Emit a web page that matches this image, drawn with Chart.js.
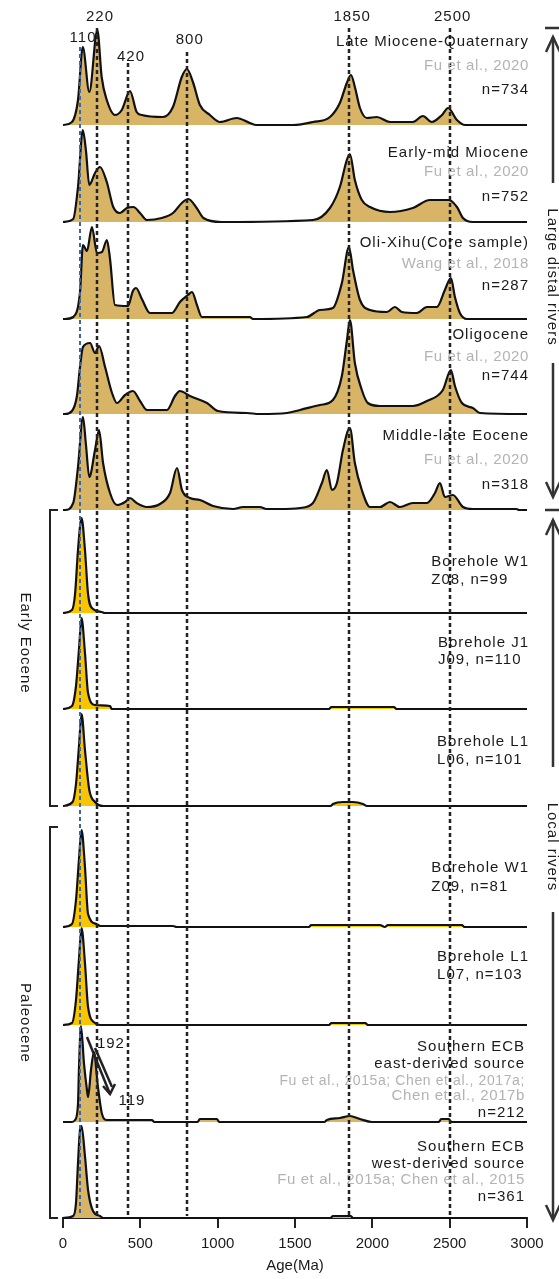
<!DOCTYPE html>
<html>
<head>
<meta charset="utf-8">
<script src="https://cdn.jsdelivr.net/npm/chart.js@4/dist/chart.umd.min.js"></script>
<style>
  html, body { margin: 0; padding: 0; background: #fff; }
  #wrap { width: 559px; height: 1279px; }
</style>
</head>
<body>
<div id="wrap"><canvas id="kde" width="559" height="1279" style="width:559px;height:1279px"></canvas></div>
<script>
// ages (Ma) and curve heights for each sample
const ageLateMio = [0,58,97,128,170,222,250,283,336,380,433,476,510,646,711,768,801,840,885,950,1015,1123,1208,1250,1487,1616,1726,1790,1835,1862,1887,1920,1965,2029,2114,2262,2327,2384,2450,2490,2547,2600,3000];
const hLateMio   = [0,3,25,78,33,95,48,25,10,15,34,13,10,8,18,48,56,43,20,10,3,7,2,0,0,3,8,22,42,50,38,17,7,8,3,3,9,3,10,17,5,0,0];

const ageEarlyMio = [0,66,97,128,148,170,207,239,283,325,368,413,455,498,541,638,711,768,810,864,908,1025,1616,1726,1790,1835,1855,1887,1932,1985,2114,2262,2372,2495,2547,2586,2650,3000];
const hEarlyMio   = [0,3,35,92,72,37,49,55,40,15,9,14,15,9,2,4,9,19,23,14,4,0,2,14,35,62,68,42,22,15,10,14,22,22,15,4,0,0];

const ageOliXihu = [0,13,66,110,129,155,187,220,252,284,304,336,420,452,472,510,562,704,756,808,834,866,898,1208,1228,1577,1661,1745,1803,1849,1875,1920,1985,2094,2146,2191,2288,2353,2417,2469,2508,2534,2566,2611,3000];
const hOliXihu   = [0,0,2,27,74,68,92,66,67,79,60,14,13,28,31,20,6,6,17,24,27,14,2,2,0,2,9,11,36,72,49,19,9,7,12,7,6,12,12,29,41,22,6,0,0];

const ageOligo = [0,13,58,90,110,129,175,207,233,272,317,349,401,452,498,543,672,724,756,821,931,1002,1189,1273,1448,1532,1661,1745,1803,1836,1855,1887,1932,1971,2049,2262,2353,2456,2508,2534,2579,2650,2695,3000];
const hOligo   = [0,0,3,18,47,67,71,61,68,47,21,11,19,23,13,4,4,18,23,18,11,3,1,0,1,4,9,14,38,74,94,51,24,11,8,8,13,24,44,28,11,6,1,0];

const ageMidEoc = [0,13,66,97,129,148,170,207,233,259,304,349,401,433,476,541,627,692,737,769,821,885,970,1100,1164,1273,1316,1403,1532,1616,1674,1706,1739,1771,1810,1855,1887,1932,1985,2049,2114,2178,2262,2353,2405,2437,2469,2521,2586,2650,2930,2950,3000];
const hMidEoc   = [0,0,7,43,93,66,33,60,80,47,17,5,8,12,7,3,6,17,42,20,12,10,4,1,3,3,1,1,2,7,27,40,20,27,60,82,47,20,3,3,8,3,7,7,17,27,13,15,3,1,1,0,0];

const ageW1Z08 = [0,58,78,97,120,142,162,194,250,270,3000];
const hW1Z08   = [0,3,19,63,95,63,19,4,1,0,0];

const ageJ1J09 = [0,58,84,103,120,142,162,207,304,315,1720,1735,2140,2155,3000];
const hJ1J09   = [0,3,23,59,91,56,16,4,3,0,0,2,2,0,0];

const ageL1L06 = [0,62,84,103,120,142,170,207,260,1730,1745,1810,1875,1940,1965,3000];
const hL1L06   = [0,4,22,59,92,56,16,4,0,0,2,4,4,2,0,0];

const ageW1Z09 = [0,58,84,103,120,142,162,217,240,711,735,1590,1605,2049,2081,2101,2579,2595,3000];
const hW1Z09   = [0,3,27,67,97,60,13,3,1,1,0,0,2,2,0,2,2,0,0];

const ageL1L07 = [0,58,84,103,120,142,162,207,240,1720,1735,1955,1970,3000];
const hL1L07   = [0,2,25,65,97,62,18,2,0,0,2,2,0,0];

const ageEcbEast = [0,58,78,97,103,116,136,155,162,181,200,226,252,284,575,590,870,885,995,1010,1690,1706,1790,1855,1920,1997,2430,2445,2495,2510,3000];
const hEcbEast   = [0,0,2,18,52,96,58,32,25,52,70,35,8,2,2,0,0,3,3,0,0,2,4,6,3,0,0,3,3,0,0];

const ageEcbWest = [0,66,84,97,110,120,142,162,194,239,260,1730,1745,1860,1875,3000];
const hEcbWest   = [0,2,15,55,88,92,62,28,7,2,0,0,2,2,0,0];

// peak ages marked with dashed lines
const peakAges = [110, 220, 420, 800, 1850, 2500];
const peakLabels = ['110', '220', '420', '800', '1850', '2500'];

// panel labels: [text, isReference]
const labelsLateMio  = [['Late Miocene-Quaternary', 0], ['Fu et al., 2020', 1], ['n=734', 0]];
const labelsEarlyMio = [['Early-mid Miocene', 0], ['Fu et al., 2020', 1], ['n=752', 0]];
const labelsOliXihu  = [['Oli-Xihu(Core sample)', 0], ['Wang et al., 2018', 1], ['n=287', 0]];
const labelsOligo    = [['Oligocene', 0], ['Fu et al., 2020', 1], ['n=744', 0]];
const labelsMidEoc   = [['Middle-late Eocene', 0], ['Fu et al., 2020', 1], ['n=318', 0]];
const labelsW1Z08    = [['Borehole W1', 0], ['Z08, n=99', 0]];
const labelsJ1J09    = [['Borehole J1', 0], ['J09, n=110', 0]];
const labelsL1L06    = [['Borehole L1', 0], ['L06, n=101', 0]];
const labelsW1Z09    = [['Borehole W1', 0], ['Z09, n=81', 0]];
const labelsL1L07    = [['Borehole L1', 0], ['L07, n=103', 0]];
const labelsEcbEast  = [['Southern ECB', 0], ['east-derived source', 0], ['Fu et al., 2015a; Chen et al., 2017a;', 1], ['Chen et al., 2017b', 1], ['n=212', 0]];
const labelsEcbWest  = [['Southern ECB', 0], ['west-derived source', 0], ['Fu et al., 2015a; Chen et al., 2015', 1], ['n=361', 0]];

// ---------- layout (pixels) ----------
const TAN = '#d8b566';
const YELLOW = '#f8c500';
const INK = '#1a1a1a';
const FONT = '"Liberation Sans", Arial, sans-serif';
const AXIS_Y = 1218;   // bottom of plot area

const panels = [
  { age: ageLateMio,  h: hLateMio,  base: 125,  fill: TAN,    labels: labelsLateMio,  ly: [42, 66, 90] },
  { age: ageEarlyMio, h: hEarlyMio, base: 222,  fill: TAN,    labels: labelsEarlyMio, ly: [153, 172, 197] },
  { age: ageOliXihu,  h: hOliXihu,  base: 319,  fill: TAN,    labels: labelsOliXihu,  ly: [243, 264, 286] },
  { age: ageOligo,    h: hOligo,    base: 414,  fill: TAN,    labels: labelsOligo,    ly: [335, 357, 376] },
  { age: ageMidEoc,   h: hMidEoc,   base: 510,  fill: TAN,    labels: labelsMidEoc,   ly: [436, 460, 485] },
  { age: ageW1Z08,    h: hW1Z08,    base: 613,  fill: YELLOW, labels: labelsW1Z08,    ly: [562, 580], block: true },
  { age: ageJ1J09,    h: hJ1J09,    base: 709,  fill: YELLOW, labels: labelsJ1J09,    ly: [643, 660], block: true },
  { age: ageL1L06,    h: hL1L06,    base: 806,  fill: YELLOW, labels: labelsL1L06,    ly: [742, 760], block: true },
  { age: ageW1Z09,    h: hW1Z09,    base: 927,  fill: YELLOW, labels: labelsW1Z09,    ly: [868, 887], block: true },
  { age: ageL1L07,    h: hL1L07,    base: 1025, fill: YELLOW, labels: labelsL1L07,    ly: [957, 975], block: true },
  { age: ageEcbEast,  h: hEcbEast,  base: 1122, fill: TAN,    labels: labelsEcbEast,  ly: [1047, 1064, 1081, 1096, 1113], right: 525 },
  { age: ageEcbWest,  h: hEcbWest,  base: 1218, fill: TAN,    labels: labelsEcbWest,  ly: [1147, 1164, 1180, 1197], right: 525 }
];

// top of each dashed peak line (pixels) and label placement
const peakTop = [47, 28, 63, 52, 28, 28];
const peakLabelY = [38, 17, 57, 40, 17, 17];

Chart.defaults.font.family = FONT;

const datasets = panels.map(p => {
  const off = AXIS_Y - p.base;
  return {
    data: p.age.map((a, i) => ({ x: a, y: off + p.h[i] })),
    borderColor: '#111',
    borderWidth: 2.2,
    backgroundColor: p.fill,
    fill: { value: off },
    pointRadius: 0,
    cubicInterpolationMode: 'monotone',
    clip: false
  };
});

function chevron(ctx, x, tipY, dir) {
  ctx.beginPath();
  ctx.moveTo(x - 7, tipY + dir * 15);
  ctx.lineTo(x, tipY);
  ctx.lineTo(x + 7, tipY + dir * 15);
  ctx.stroke();
}

function vText(ctx, text, x, y) {
  ctx.save();
  ctx.translate(x, y);
  ctx.rotate(Math.PI / 2);
  ctx.textAlign = 'center';
  ctx.textBaseline = 'middle';
  ctx.fillText(text, 0, 0);
  ctx.restore();
}

const peakLines = {
  id: 'peakLines',
  afterDatasetsDraw(chart) {
    const { ctx, scales: { x } } = chart;
    ctx.save();
    ctx.setLineDash([4, 3]);
    peakAges.forEach((a, i) => {
      const px = Math.round(x.getPixelForValue(a));
      ctx.strokeStyle = a === 110 ? '#3a64a8' : '#222';
      ctx.lineWidth = a === 110 ? 2 : 2.5;
      ctx.beginPath();
      ctx.moveTo(px, peakTop[i]);
      ctx.lineTo(px, AXIS_Y - 2);
      ctx.stroke();
    });
    ctx.setLineDash([]);

    // peak annotation arrows in the east-derived panel
    const base = panels[10].base;
    const P = (a, h) => [x.getPixelForValue(a), base - h];
    ctx.strokeStyle = '#222';
    ctx.lineWidth = 2.5;
    const tip = P(304, 28);
    let s = P(155, 85);
    ctx.beginPath(); ctx.moveTo(...s); ctx.lineTo(...tip); ctx.stroke();
    s = P(207, 74);
    const e = P(317, 35);
    ctx.beginPath(); ctx.moveTo(...s); ctx.lineTo(...e); ctx.stroke();
    ctx.beginPath();
    ctx.moveTo(tip[0] - 7, tip[1] - 8);
    ctx.lineTo(tip[0], tip[1]);
    ctx.lineTo(e[0] + 3, e[1] - 3);
    ctx.stroke();
    ctx.restore();
  },
  afterDraw(chart) {
    const { ctx, scales: { x } } = chart;
    ctx.save();
    ctx.font = '15px ' + FONT;
    ctx.letterSpacing = '1px';
    ctx.fillStyle = INK;
    ctx.textAlign = 'center';
    ctx.textBaseline = 'middle';
    peakLabels.forEach((t, i) => {
      ctx.fillText(t, x.getPixelForValue(peakAges[i]) + 3, peakLabelY[i]);
    });
    const base = panels[10].base;
    ctx.fillText('192', x.getPixelForValue(310), base - 78);
    ctx.fillText('119', x.getPixelForValue(446), base - 21);

    // panel labels
    panels.forEach(p => {
      const right = p.right || 529;
      if (p.block) {
        ctx.fillStyle = INK;
        ctx.textAlign = 'right';
        ctx.fillText(p.labels[0][0], right, p.ly[0]);
        const left = right - ctx.measureText(p.labels[0][0]).width;
        ctx.textAlign = 'left';
        ctx.fillText(p.labels[1][0], left, p.ly[1]);
        return;
      }
      ctx.textAlign = 'right';
      p.labels.forEach(([t, ref], i) => {
        ctx.fillStyle = ref ? '#b3b3b3' : INK;
        ctx.letterSpacing = ref ? '0.6px' : '1px';
        ctx.font = (t.length > 35 ? '14px ' : '15px ') + FONT;
        ctx.fillText(t, right, p.ly[i]);
      });
      ctx.font = '15px ' + FONT;
      ctx.letterSpacing = '1px';
    });

    // left brackets
    ctx.strokeStyle = '#222';
    ctx.lineWidth = 2;
    [[510, 806], [827, 1218]].forEach(([t, b]) => {
      ctx.beginPath();
      ctx.moveTo(58, t); ctx.lineTo(50, t); ctx.lineTo(50, b); ctx.lineTo(58, b);
      ctx.stroke();
    });
    ctx.fillStyle = INK;
    vText(ctx, 'Early Eocene', 25, 643);
    vText(ctx, 'Paleocene', 25, 1023);

    // right arrows
    const ax = 553;
    ctx.lineWidth = 2.5;
    ctx.strokeStyle = '#333';
    ctx.beginPath();
    ctx.moveTo(545, 28); ctx.lineTo(559, 28);
    ctx.moveTo(545, 510); ctx.lineTo(559, 510);
    ctx.moveTo(ax, 37); ctx.lineTo(ax, 183);
    ctx.moveTo(ax, 363); ctx.lineTo(ax, 496);
    ctx.moveTo(ax, 520); ctx.lineTo(ax, 767);
    ctx.moveTo(ax, 912); ctx.lineTo(ax, 1219);
    ctx.stroke();
    chevron(ctx, ax, 37, 1);
    chevron(ctx, ax, 497, -1);
    chevron(ctx, ax, 520, 1);
    chevron(ctx, ax, 1220, -1);
    vText(ctx, 'Large distal rivers', 552, 277);
    vText(ctx, 'Local rivers', 552, 847);
    ctx.restore();
  }
};

new Chart(document.getElementById('kde'), {
  type: 'line',
  data: { datasets },
  options: {
    responsive: false,
    animation: false,
    layout: { padding: { left: 63, right: 32, top: 0, bottom: 0 } },
    plugins: { legend: { display: false }, tooltip: { enabled: false } },
    scales: {
      x: {
        type: 'linear',
        min: 0,
        max: 3000,
        afterFit(scale) { scale.height = 61; },
        ticks: { stepSize: 500, color: INK, font: { size: 15 }, padding: 7, maxRotation: 0, callback: v => String(v) },
        grid: { drawOnChartArea: false, drawTicks: true, tickLength: 10, lineWidth: 2, color: '#222' },
        border: { display: true, color: '#222', width: 2 },
        title: { display: true, text: 'Age(Ma)', color: INK, font: { size: 15 }, padding: { top: 0, bottom: 4 } }
      },
      y: { type: 'linear', min: 0, max: AXIS_Y, display: false }
    }
  },
  plugins: [peakLines]
});
</script>
</body>
</html>
